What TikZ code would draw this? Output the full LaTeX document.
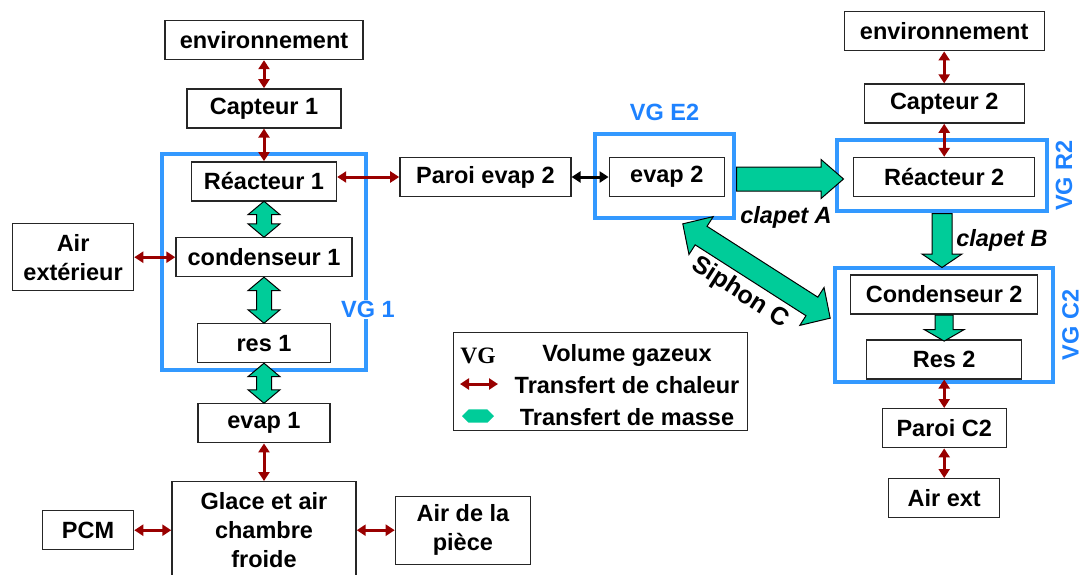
\documentclass[tikz,border=0pt]{standalone}
\usepackage{fontspec}
\setmainfont{Liberation Sans}
\newfontfamily\legendserif{Liberation Serif}
\usepackage{xcolor}
\usepackage{tikz}
\usetikzlibrary{arrows.meta,positioning,shapes.arrows,fit,calc}

\definecolor{vgblue}{RGB}{51,153,255}
\definecolor{vgtext}{RGB}{30,130,255}
\definecolor{heatred}{RGB}{153,0,0}
\definecolor{massgreen}{RGB}{0,204,153}

\begin{document}
\begin{tikzpicture}[
  x=1pt, y=-1pt,
  font=\fontsize{23.5}{29}\selectfont\bfseries,
  box/.style={draw=black!85, line width=1.4pt, fill=white, align=center,
              inner sep=0pt, minimum height=39pt},
  vgframe/.style={draw=vgblue, line width=4pt},
  vglabel/.style={text=vgtext, inner sep=1pt},
  heat/.style={{Triangle[length=9pt,width=11pt]}-{Triangle[length=9pt,width=11pt]},
               draw=heatred, line width=3pt},
  link/.style={heat, draw=black},
  massdbl/.style={double arrow, draw=black, line width=1pt, fill=massgreen,
                  inner xsep=0pt, inner ysep=7pt, double arrow head extend=8.5pt,
                  double arrow tip angle=100},
  massone/.style={single arrow, draw=black, line width=1pt, fill=massgreen,
                  inner xsep=0pt, anchor=tail},
  clapet/.style={font=\fontsize{23.5}{29}\selectfont\bfseries\itshape}
]
\useasboundingbox (0,0) rectangle (1082,574);
\clip (0,0) rectangle (1082,574);

% partie 1
\node[box, minimum width=198pt]                          (env1)    at (264,40) {environnement};
\node[box, minimum width=154pt, below=28pt of env1]      (capt1)   {Capteur 1};
\node[box, minimum width=145pt, below=32.5pt of capt1]   (reac1)   {Réacteur 1};
\node[box, minimum width=176pt, below=35.5pt of reac1]   (cond1)   {condenseur 1};
\node[box, minimum width=133pt, below=45.6pt of cond1]   (res1)    {res 1};
\node[box, minimum width=132pt, below=39.6pt of res1]    (evap1)   {evap 1};
\node[box, minimum width=184pt, minimum height=97pt,
      below=37.6pt of evap1]                             (glace)   {Glace et air\\chambre\\froide};
\node[box, minimum width=121pt, minimum height=67pt,
      left=41pt of cond1]                                (airext1) {Air\\extérieur};
\node[box, minimum width=91pt, left=37pt of glace]       (pcm)     {PCM};
\node[box, minimum width=135pt, minimum height=68pt,
      right=38pt of glace]                               (piece)   {Air de la\\pièce};

% partie 2
\node[box, minimum width=171pt, right=62pt of reac1, yshift=4.3pt] (paroi2) {Paroi evap 2};
\node[box, minimum width=115pt, right=37pt of paroi2]    (evap2)   {evap 2};
\node[box, minimum width=181pt, right=128pt of evap2]    (reac2)   {Réacteur 2};
\node[box, minimum width=160pt, above=33pt of reac2]     (capt2)   {Capteur 2};
\node[box, minimum width=200pt, above=32pt of capt2]     (env2)    {environnement};
\node[box, minimum width=187pt, below=77pt of reac2]     (cond2)   {Condenseur 2};
\node[box, minimum width=155pt, below=24.5pt of cond2]   (res2)    {Res 2};
\node[box, minimum width=124pt, below=28.5pt of res2]    (paroic2) {Paroi C2};
\node[box, minimum width=111pt, below=29.6pt of paroic2] (airext2) {Air ext};

% volumes gazeux
\node[vgframe, fit=(reac1)(cond1)(res1), inner xsep=13.3pt, inner ysep=6.8pt] (vg1) {};
\node[vgframe, fit=(evap2), inner xsep=11.3pt, inner ysep=21.8pt,
      xshift=-2.3pt, yshift=1pt] (vge2) {};
\node[vgframe, fit=(reac2), inner xsep=13.8pt, inner ysep=15.3pt,
      xshift=-2.2pt, yshift=1.5pt] (vgr2) {};
\node[vgframe, fit=(cond2)(res2), inner xsep=15pt, inner ysep=4.5pt, yshift=2pt] (vgc2) {};

% transferts de masse
\node[massdbl, rotate=90, minimum height=36pt] (m1) at ($(reac1.south)!.5!(cond1.north)$) {};
\node[massdbl, rotate=90, minimum height=46pt] (m2) at ($(cond1.south)!.5!(res1.north)$) {};
\node[massdbl, rotate=90, minimum height=40pt] (m3) at ($(res1.south)!.5!(evap1.north)$) {};
\node[massone, inner ysep=11.5pt, single arrow head extend=7.5pt, single arrow tip angle=82,
      minimum height=107pt] (mA) at ([yshift=-3pt]vge2.east) {};
\node[massone, rotate=-90, inner ysep=9.5pt, single arrow head extend=10pt,
      single arrow tip angle=112, minimum height=54pt] (mB) at (vgr2.south) {};
\node[massone, rotate=-90, inner ysep=8.5pt, single arrow head extend=11pt,
      single arrow tip angle=120, minimum height=26pt] (mC) at (cond2.south) {};
\coordinate (siphtop) at (683,224);
\coordinate (siphbot) at (830,318);
\node[massdbl, inner ysep=10.5pt, double arrow head extend=11.5pt, double arrow tip angle=92,
      minimum height=175pt, rotate=-32.6] (siphon) at ($(siphtop)!.5!(siphbot)$) {};

% transferts de chaleur
\draw[heat] (env1) -- (capt1);
\draw[heat] (capt1) -- (reac1);
\draw[heat] (reac1.east |- paroi2) -- (paroi2);
\draw[heat] (airext1) -- (cond1);
\draw[heat] (evap1) -- (glace);
\draw[heat] (pcm) -- (glace);
\draw[heat] (glace) -- (piece);
\draw[link] (paroi2) -- (evap2);
\draw[heat] (env2) -- (capt2);
\draw[heat] (capt2) -- (reac2);
\draw[heat] (res2) -- (paroic2);
\draw[heat] (paroic2) -- (airext2);

\node[vglabel, fill=white] (vg1lbl) at ($(vg1.east)+(0,47)$) {VG 1};
\node[vglabel, above=10pt of vge2] (vge2lbl) {VG E2};
\node[vglabel, rotate=90] (vgr2lbl) at ($(vgr2.east)+(15,0)$) {VG R2};
\node[vglabel, rotate=90] (vgc2lbl) at ($(vgc2.east)+(15,0)$) {VG C2};
\node[clapet] (clapA) at (786,217) {clapet A};
\node[clapet] (clapB) at (1002,240) {clapet B};
\node[font=\fontsize{25}{29}\selectfont\bfseries, rotate=-32.6] (siphlbl) at (740,293) {Siphon C};

% legende
\node[box, minimum width=294pt, minimum height=98pt] (legend) at (600.5,381.5) {};
\node[font=\fontsize{23.5}{29}\selectfont\legendserif\bfseries] (lgvg) at (478,356) {VG};
\node (lgvol) at (627,355) {Volume gazeux};
\coordinate (lgh1) at (460,384);
\coordinate (lgh2) at (498,384);
\draw[heat] (lgh1) -- (lgh2);
\node (lgheat) at (627,385) {Transfert de chaleur};
\node[double arrow, fill=massgreen, inner xsep=0pt, inner ysep=6.5pt,
      double arrow head extend=0pt, minimum height=32pt] (lgmass) at (478,416) {};
\node (lgmasstxt) at (627,417) {Transfert de masse};
\end{tikzpicture}
\end{document}
